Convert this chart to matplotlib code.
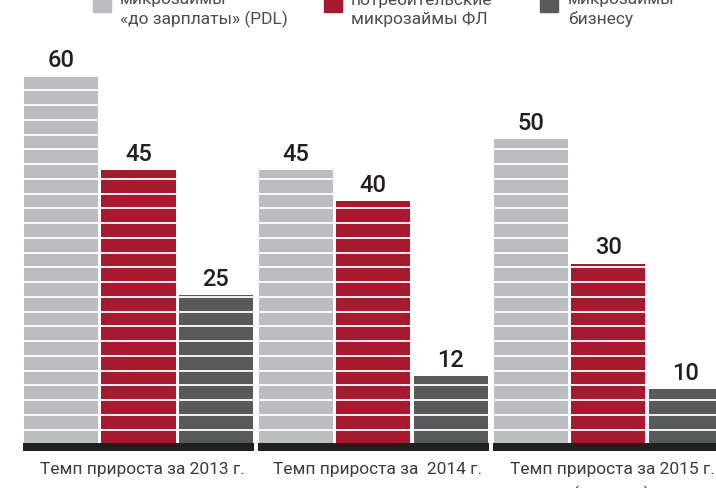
import numpy as np
import matplotlib.pyplot as plt
from matplotlib.patches import Rectangle

plt.rcParams['font.family'] = ['Roboto', 'DejaVu Sans']

groups = ['Темп прироста за 2013 г.', 'Темп прироста за  2014 г.',
          'Темп прироста за 2015 г.\n(прогноз)']
series = ['микрозаймы\n«до зарплаты» (PDL)', 'потребительские\nмикрозаймы ФЛ',
          'микрозаймы\nбизнесу']
pdl = [60, 45, 50]
consumer = [45, 40, 30]
business = [25, 12, 10]
colors = ['#bcbdc0', '#a6192e', '#58595b']

W, H = 716, 489
fig = plt.figure(figsize=(W / 100, H / 100), dpi=100)
ax = fig.add_axes([0, 0, 1, 1])
ax.axis('off')

px = 6.25  # pixels per unit
base = 452
ax.set_xlim(-0.787, (W - 61) / 77.5)
ax.set_ylim(-(H - base) / px, base / px)

gpitch = 3.03
x0 = np.arange(len(groups)) * gpitch
for i, vals in enumerate([pdl, consumer, business]):
    xs = x0 + i
    ax.bar(xs, vals, width=0.955, color=colors[i], zorder=1)
    for x, v in zip(xs, vals):
        ax.text(x, v + 1.6, str(v), ha='center', va='baseline', fontsize=17,
                weight='medium', color='#231f20', zorder=5)

# white stripes across bars
for y in np.arange(3.41, 75, 2.36):
    ax.axhline(y, color='white', lw=1.3, zorder=2)

# black base band under each group
ax.bar(x0 + 1, 8 / px, width=2.98, bottom=0, color='#231f20', zorder=3)

for x, g in zip(x0 + 1, groups):
    ax.text(x + 0.05, -10.5 / px, g, ha='center', va='top', fontsize=12.5,
            color='#3c3c3c', linespacing=1.6)

# legend at top (partly cut by the edge)
leg_sq = [93, 324, 540]
leg_tx = [120, 351, 568]
for sx, tx, c, s in zip(leg_sq, leg_tx, colors, series):
    fig.add_artist(Rectangle((sx / W, 1 - 13 / H), 18 / W, 25 / H,
                             transform=fig.transFigure, color=c))
    fig.text(tx / W, 1 - 24 / H, s, ha='left', va='baseline', fontsize=12.5,
             color='#4d4d4f', linespacing=1.3)

fig.savefig('out.png', dpi=100)
